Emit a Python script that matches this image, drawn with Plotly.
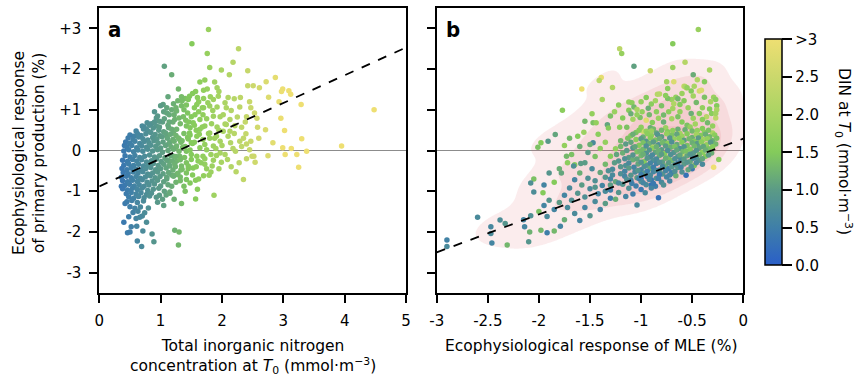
import numpy as np
import plotly.graph_objects as go

# ---------------- Panel a: DIN at T0 (x) vs ecophysiological response of PP (y)
din_a_outer = [1.78, 1.51, 1.76, 2.27, 1.06, 1.18, 1.80, 2.18, 1.99, 2.42, 2.12, 2.87, 2.72, 2.42, 2.51, 2.61,
               2.99, 2.97, 3.09, 3.12, 2.76, 2.93, 3.29, 4.48, 2.96, 3.02, 3.30, 2.83, 2.99, 3.13, 3.38, 3.95,
               3.03, 3.22, 2.75, 3.25, 2.54, 2.49, 2.35, 2.23, 1.87, 1.57, 1.34, 1.23, 1.30, 1.29, 0.89, 0.69,
               0.62, 0.86, 0.50, 0.46, 0.40, 0.52, 0.61, 0.71, 0.70, 0.77, 0.42, 0.36, 0.41, 0.56]
pp_a_outer = [2.97, 2.62, 2.38, 2.50, 2.07, 1.86, 2.04, 2.17, 1.98, 1.96, 1.86, 1.79, 1.69, 1.59, 1.59, 1.54,
              1.51, 1.45, 1.47, 1.38, 1.31, 1.20, 1.13, 1.00, 0.79, 0.49, 0.29, 0.19, 0.07, 0.05, -0.02, 0.11,
              -0.10, -0.10, -0.13, -0.41, -0.29, -0.14, -0.71, -0.52, -1.10, -1.19, -1.30, -1.96, -2.00, -2.32, -2.24, -2.36,
              -2.22, -2.05, -2.00, -2.02, -1.76, -1.87, -1.86, -1.98, -1.61, -1.76, -1.30, -0.88, 0.12, 0.35]

din_a_mid = [1.64, 1.72, 1.88, 1.92, 1.57, 1.76, 1.81, 1.70, 1.94, 2.20, 2.05, 1.92, 2.07, 2.29, 2.47, 2.53,
             2.57, 2.40, 2.21, 2.13, 2.32, 2.39, 2.58, 2.71, 2.47, 2.29, 2.40, 2.14, 2.22, 2.09, 1.99, 2.28,
             2.52, 1.82, 1.79, 1.57, 1.42, 1.38, 1.26, 1.18, 1.09, 1.03, 0.93, 1.06,
             1.29, 1.40, 1.34, 1.47, 1.21, 1.04, 1.10, 1.26, 1.34, 1.44, 1.50, 1.37, 1.23, 1.14, 0.93, 1.03,
             0.93, 0.73, 0.77, 0.85, 1.13, 1.26, 1.42, 1.53, 1.64, 1.70, 1.80, 1.69, 1.86, 1.97, 1.64, 1.72,
             1.80, 1.59, 1.69, 1.64, 1.75, 1.86, 1.97, 1.91, 2.02, 2.07, 2.13, 1.50, 1.42, 1.50, 1.59, 1.69,
             1.61, 1.72, 1.91, 1.97, 1.86, 1.53, 1.42, 1.34, 1.26, 1.15, 1.21, 1.31, 1.40, 1.31, 1.21, 1.10,
             1.47, 1.56, 1.77, 1.86, 1.59]
pp_a_mid = [1.68, 1.73, 1.68, 1.54, 1.45, 1.51, 1.32, 1.28, 1.33, 1.27, 1.17, 1.07, 1.05, 1.07, 1.05, 0.92,
            0.79, 0.83, 0.61, 0.47, 0.57, 0.41, 0.57, 0.51, 0.23, 0.23, 0.16, 0.19, -0.02, -0.22, -0.29, -0.30,
            -0.14, -0.53, -0.61, -0.73, -0.71, -0.88, -0.59, -0.88, -1.09, -1.20, -1.15, -1.00,
            1.51, 1.28, 1.32, 1.33, 1.15, 1.13, 1.05, 0.97, 1.10, 0.92, 0.83, 0.83, 0.76, 0.88, 0.80, 0.70,
            0.60, 0.58, 0.52, 0.66, 0.56, 0.52, 0.60, 0.68, 0.76, 1.05, 1.09, 0.88, 0.84, 0.83, 0.52, 0.60,
            0.43, 0.35, 0.27, 0.07, 0.02, 0.11, 0.23, 0.35, 0.47, 0.64, 0.76, 0.19, -0.02, -0.10, -0.14, -0.14,
            -0.26, -0.34, -0.12, -0.06, -0.24, -0.43, -0.55, -0.38, -0.26, -0.38, -0.14, -0.14, 0.10, 0.27, 0.43, 0.35,
            0.43, 0.88, 1.17, 1.25, 1.13]

din_a_mid2 = [1.12, 1.20, 1.32, 1.41, 1.48, 1.55, 1.62, 1.75, 1.83, 1.92, 2.02, 2.15, 2.25, 2.38,
              1.15, 1.25, 1.35, 1.44, 1.55, 1.63, 1.72, 1.80, 1.90, 2.00, 2.10, 2.18, 2.32, 2.45,
              1.14, 1.24, 1.33, 1.42, 1.50, 1.58, 1.66, 1.75, 1.84, 1.95, 2.05, 2.15,
              1.10, 1.18, 1.25, 1.32, 1.40, 1.48, 1.60, 1.70, 1.15, 1.22, 1.05, 0.98,
              1.05, 0.98, 1.18, 1.28, 1.42, 1.52, 1.62, 1.70, 1.95, 2.10, 2.30, 2.45, 1.85, 0.90, 1.00, 1.12,
              0.82, 0.90, 0.98, 1.06, 1.14, 1.22, 1.30, 1.38, 1.46, 1.55, 0.95, 1.10, 1.25, 1.35, 1.45, 1.60,
              1.68, 0.78, 0.70, 1.48, 1.58, 1.68, 1.78, 1.88, 1.95, 2.05, 2.20, 2.35, 1.52, 1.62, 1.72, 1.82,
              1.45, 2.40, 2.60]
pp_a_mid2 = [0.62, 0.70, 0.66, 0.74, 0.56, 0.62, 0.95, 0.78, 0.66, 0.58, 0.88, 0.98, 0.82, 0.70,
             0.20, 0.08, 0.24, 0.32, 0.20, 0.40, 0.15, 0.30, 0.05, 0.12, 0.35, 0.05, 0.10, 0.02,
             -0.25, -0.40, -0.48, -0.30, -0.22, -0.40, -0.30, -0.45, -0.38, -0.45, -0.10, -0.40,
             -0.70, -0.60, -0.78, -0.65, -1.00, -0.80, -0.95, -0.62, -1.05, -1.20, -1.35, -1.10,
             0.95, 0.72, 1.00, 1.22, 1.12, 1.40, 1.20, 1.48, 1.45, 1.30, 1.30, 1.20, 0.98, 0.95, 1.10, 1.32,
             0.62, 0.70, 0.58, 0.78, 0.70, 0.88, 0.80, 1.00, 0.70, 1.05, 0.85, 0.92, 1.05, 1.22, 1.25, 1.30,
             1.05, 0.68, 0.60, 0.38, 0.50, 0.58, 0.42, 0.30, 0.50, 0.65, 0.42, 0.30, -0.60, -0.70, -0.20, -0.10,
             -0.45, -0.20, 0.30]

din_a_core = [0.60, 0.72, 0.80, 0.88, 0.97, 1.05, 1.18,
              0.50, 0.62, 0.68, 0.76, 0.84, 0.91, 0.99, 1.08, 1.16, 1.25, 1.38,
              0.47, 0.55, 0.64, 0.71, 0.79, 0.87, 0.94, 1.02, 1.11, 1.20, 1.29, 1.45,
              0.43, 0.50, 0.58, 0.66, 0.73, 0.81, 0.89, 0.96, 1.04, 1.13, 1.22, 1.33, 1.52,
              0.45, 0.53, 0.61, 0.69, 0.77, 0.84, 0.92, 1.00, 1.08, 1.17, 1.26, 1.36,
              0.40, 0.48, 0.56, 0.63, 0.71, 0.79, 0.87, 0.95, 1.03, 1.12, 1.21, 1.30, 1.48,
              0.42, 0.50, 0.58, 0.66, 0.74, 0.82, 0.90, 0.98, 1.07, 1.16, 1.25, 1.39,
              0.38, 0.46, 0.54, 0.61, 0.69, 0.77, 0.85, 0.93, 1.01, 1.10, 1.19, 1.32,
              0.40, 0.48, 0.56, 0.64, 0.72, 0.80, 0.88, 0.96, 1.05, 1.14, 1.23, 1.45,
              0.37, 0.45, 0.52, 0.60, 0.68, 0.76, 0.84, 0.92, 1.00, 1.09, 1.20, 1.35,
              0.39, 0.47, 0.55, 0.63, 0.71, 0.79, 0.87, 0.95, 1.04, 1.13, 1.28,
              0.36, 0.44, 0.52, 0.60, 0.67, 0.75, 0.83, 0.91, 0.99, 1.10, 1.21,
              0.38, 0.46, 0.54, 0.62, 0.70, 0.78, 0.86, 0.95, 1.05, 1.32,
              0.41, 0.49, 0.57, 0.65, 0.73, 0.81, 0.90, 1.00, 1.12,
              0.38, 0.46, 0.54, 0.62, 0.70, 0.79, 0.88, 0.97,
              0.44, 0.52, 0.60, 0.68, 0.77, 0.85, 1.15,
              0.48, 0.56, 0.64, 0.73, 0.82,
              0.45, 0.53, 0.62, 0.72, 0.95,
              0.50, 0.58, 0.67, 0.80,
              0.55, 0.63, 0.74,
              0.48, 0.60, 0.66]
pp_a_core = [0.48, 0.53, 0.47, 0.55, 0.50, 0.46, 0.52,
             0.38, 0.42, 0.37, 0.41, 0.44, 0.39, 0.36, 0.43, 0.40, 0.37, 0.42,
             0.31, 0.27, 0.33, 0.29, 0.26, 0.32, 0.28, 0.34, 0.30, 0.27, 0.31, 0.28,
             0.21, 0.18, 0.23, 0.17, 0.22, 0.19, 0.24, 0.18, 0.21, 0.16, 0.23, 0.20, 0.17,
             0.09, 0.12, 0.07, 0.11, 0.08, 0.13, 0.10, 0.06, 0.12, 0.09, 0.11, 0.08,
             -0.01, 0.02, -0.03, 0.01, -0.02, 0.03, -0.01, 0.02, -0.04, 0.00, 0.03, -0.02, 0.01,
             -0.13, -0.16, -0.12, -0.17, -0.14, -0.11, -0.16, -0.13, -0.18, -0.12, -0.15, -0.17,
             -0.24, -0.27, -0.22, -0.26, -0.23, -0.28, -0.25, -0.21, -0.27, -0.24, -0.26, -0.23,
             -0.36, -0.33, -0.37, -0.34, -0.38, -0.35, -0.32, -0.37, -0.34, -0.36, -0.33, -0.38,
             -0.44, -0.47, -0.43, -0.46, -0.48, -0.44, -0.42, -0.47, -0.45, -0.43, -0.48, -0.46,
             -0.54, -0.57, -0.53, -0.56, -0.52, -0.58, -0.55, -0.53, -0.57, -0.54, -0.56,
             -0.66, -0.63, -0.67, -0.64, -0.68, -0.65, -0.62, -0.67, -0.64, -0.66, -0.63,
             -0.74, -0.77, -0.73, -0.76, -0.72, -0.78, -0.75, -0.73, -0.77, -0.74,
             -0.86, -0.83, -0.87, -0.84, -0.88, -0.85, -0.82, -0.87, -0.84,
             -0.94, -0.97, -0.93, -0.96, -0.92, -0.98, -0.95, -0.93,
             -1.06, -1.03, -1.07, -1.04, -1.08, -1.05, -1.02,
             -1.14, -1.17, -1.13, -1.16, -1.12,
             -1.26, -1.23, -1.28, -1.24, -1.27,
             -1.38, -1.42, -1.39, -1.41,
             -1.52, -1.49, -1.53,
             -1.63, -1.67, -1.64]

fit_a_intercept, fit_a_slope = -0.88, 0.682

# ---------------- Panel b: MLE response (x) vs PP response (y), coloured by DIN
mle_b_outer = [-0.44, -0.69, -1.21, -1.19, -1.07, -0.91, -0.57, -0.69, -0.33, -0.49, -0.45, -0.38, -1.39, -1.41,
               -1.58, -1.28, -0.75, -0.68, -0.58, -0.56, -0.84, -1.77, -1.12, -1.47, -1.84, -1.91, -1.98, -2.01,
               -1.47, -2.05, -2.08, -2.05, -1.96, -2.60, -2.38, -2.33, -2.47, -2.47, -2.46, -2.90, -2.90, -2.31,
               -2.14, -2.09, -2.10, -1.98, -1.92, -1.85, -1.79, -0.83, -1.04, -0.56, -0.29, -0.24]
pp_b_outer = [2.97, 2.62, 2.50, 2.38, 2.07, 1.96, 2.17, 2.04, 1.98, 1.86, 1.74, 1.69, 1.79, 1.72,
              1.51, 1.55, 1.69, 1.69, 1.58, 1.54, 1.38, 0.99, 1.19, 0.68, 0.39, 0.23, 0.19, 0.08,
              0.19, -0.70, -0.80, -1.02, -1.04, -1.64, -1.71, -1.79, -1.87, -2.04, -2.27, -2.20, -2.36, -2.32,
              -1.87, -2.00, -2.24, -1.96, -2.02, -1.98, -1.86, -1.16, -1.34, -0.61, -0.41, -0.22]
din_b_outer = [1.78, 1.51, 2.27, 1.76, 1.06, 2.42, 2.18, 1.80, 1.99, 1.18, 2.12, 1.50, 2.87, 2.20,
               2.99, 2.10, 1.90, 2.72, 2.42, 2.51, 2.20, 1.60, 1.70, 1.40, 1.10, 0.95, 1.50, 1.40,
               0.70, 1.40, 0.80, 0.75, 1.50, 0.70, 0.75, 0.90, 0.65, 0.70, 0.60, 0.55, 0.69, 1.29,
               0.62, 1.23, 0.89, 1.30, 0.50, 1.30, 0.61, 0.30, 0.70, 0.30, 3.00, 1.60]

mle_b_upper = [-0.74, -0.57, -0.55, -0.51, -0.49, -0.43, -0.41, -0.38, -0.29, -0.27, -0.26, -0.26, -0.27, -0.66,
               -0.64, -0.62, -0.70, -0.74, -0.82, -0.90, -0.93, -0.99, -1.01, -1.09, -1.07, -1.04, -1.12, -1.04,
               -1.10, -1.08, -1.14, -1.21, -1.33, -1.32, -1.44, -0.95, -0.89, -0.91, -0.83, -0.78, -0.73, -0.69,
               -0.64, -0.62, -0.51, -0.49, -0.43, -0.36, -0.31, -0.27, -0.60, -0.47, -0.35, -0.30,
               -1.40, -1.45, -1.35, -1.50, -1.65, -1.78, -1.42, -1.56, -1.62, -1.70, -1.75, -1.60, -1.68, -1.52,
               -1.72, -1.80, -1.90, -1.85, -1.95, -1.66, -1.59, -1.73,
               -0.88, -0.98, -0.44, -0.60, -0.95, -0.90, -0.70, -1.00, -0.50,
               -1.00, -0.95, -0.86, -0.80, -0.76, -0.68, -0.58, -0.54, -0.46, -0.40, -0.33, -0.32, -0.85, -0.78,
               -0.70, -0.55, -0.40, -0.92, -1.18, -1.26, -1.30, -1.22, -1.48, -1.55, -1.38, -0.60, -0.48]
pp_b_upper = [1.52, 1.57, 1.54, 1.46, 1.34, 1.46, 1.48, 1.31, 1.31, 1.25, 1.10, 1.00, 0.80, 1.31,
              1.27, 1.13, 1.25, 1.28, 1.39, 1.14, 1.04, 0.95, 0.81, 1.17, 1.07, 1.01, 0.99, 0.88,
              0.90, 0.77, 0.57, 0.57, 0.63, 0.55, 0.68, 0.74, 0.69, 0.56, 0.79, 0.87, 0.95, 1.03,
              0.83, 0.95, 0.91, 0.79, 0.91, 0.83, 0.91, 0.91, 0.70, 0.65, 0.68, 0.60,
              0.05, -0.15, 0.20, 0.15, -0.35, -0.55, 0.40, 0.45, 0.35, 0.30, 0.12, 0.10, -0.10, -0.05,
              -0.30, -0.45, -0.55, -0.78, -0.85, -0.38, -0.32, -0.14,
              0.11, 0.47, 0.20, -0.10, 0.02, -0.85, -0.55, -0.70, -0.45,
              1.20, 1.30, 1.22, 1.10, 1.35, 1.15, 1.22, 1.05, 1.18, 1.05, 1.02, 1.20, 0.95, 0.70,
              0.78, 0.62, 0.76, 0.88, 0.80, 0.95, 0.85, 1.12, 0.90, 0.72, 1.25, 1.40, 1.58]
din_b_upper = [1.6, 2.1, 1.7, 1.5, 1.9, 2.6, 2.7, 1.4, 1.8, 1.6, 1.5, 2.0, 2.3, 1.7,
               1.3, 1.5, 1.8, 1.4, 2.2, 1.6, 1.2, 1.7, 1.4, 1.6, 1.3, 2.0, 1.5, 1.7,
               1.2, 1.9, 1.4, 1.6, 1.1, 1.5, 1.7, 2.8, 1.5, 1.2, 1.8, 1.3, 1.6, 1.9,
               1.4, 1.7, 1.2, 1.8, 1.5, 2.2, 1.6, 1.9, 1.5, 1.9, 1.3, 1.7,
               1.6, 1.4, 1.7, 1.2, 1.5, 1.1, 1.6, 1.8, 1.5, 1.3, 1.7, 1.2, 1.4, 1.0,
               1.6, 1.2, 0.9, 1.5, 0.6, 0.8, 1.0, 1.3,
               2.8, 2.5, 2.6, 2.4, 2.9, 0.25, 0.35, 0.30, 0.40,
               1.7, 1.5, 1.9, 1.4, 1.6, 2.1, 1.5, 1.8, 1.3, 1.7, 1.5, 2.0, 1.6, 1.2,
               1.9, 1.4, 1.6, 1.3, 1.5, 1.8, 1.4, 1.6, 1.7, 1.3, 2.0, 1.8, 2.0]

mle_b_core = [-1.00, -0.88, -0.76, -0.64, -0.52, -0.40,
              -1.05, -0.95, -0.85, -0.74, -0.62, -0.50, -0.38, -0.30,
              -1.10, -0.98, -0.90, -0.80, -0.70, -0.60, -0.50, -0.42, -0.33,
              -1.20, -1.05, -0.95, -0.86, -0.77, -0.68, -0.58, -0.48, -0.39, -0.30,
              -1.15, -1.02, -0.92, -0.83, -0.74, -0.65, -0.55, -0.45, -0.36, -0.27,
              -1.25, -1.08, -0.98, -0.89, -0.80, -0.71, -0.62, -0.52, -0.43, -0.34,
              -1.18, -1.04, -0.95, -0.86, -0.77, -0.68, -0.59, -0.49, -0.40, -0.31,
              -1.30, -1.12, -1.00, -0.91, -0.82, -0.73, -0.64, -0.55, -0.46, -0.37,
              -1.22, -1.08, -0.97, -0.88, -0.79, -0.70, -0.61, -0.52, -0.43,
              -1.35, -1.15, -1.03, -0.94, -0.85, -0.76, -0.67, -0.58, -0.48, -0.40,
              -1.28, -1.12, -1.00, -0.91, -0.82, -0.73, -0.64, -0.54,
              -1.40, -1.20, -1.06, -0.97, -0.88, -0.79, -0.70, -0.60,
              -1.35, -1.16, -1.04, -0.94, -0.85, -0.75, -0.66,
              -1.45, -1.25, -1.10, -1.00, -0.90, -0.80, -0.72,
              -1.38, -1.18, -1.05, -0.95, -0.86, -0.78,
              -1.50, -1.30, -1.12, -1.00, -0.90,
              -1.42, -1.22, -1.08, -0.96,
              -1.55, -1.30, -1.15]
pp_b_core = [0.57, 0.53, 0.56, 0.52, 0.58, 0.54,
             0.44, 0.47, 0.43, 0.46, 0.42, 0.48, 0.45, 0.43,
             0.36, 0.33, 0.37, 0.34, 0.38, 0.35, 0.32, 0.37, 0.34,
             0.24, 0.27, 0.23, 0.26, 0.22, 0.28, 0.25, 0.23, 0.27, 0.24,
             0.16, 0.13, 0.17, 0.14, 0.18, 0.15, 0.12, 0.17, 0.14, 0.16,
             0.04, 0.07, 0.03, 0.06, 0.02, 0.08, 0.05, 0.03, 0.07, 0.04,
             -0.06, -0.03, -0.07, -0.04, -0.08, -0.05, -0.02, -0.07, -0.04, -0.06,
             -0.14, -0.17, -0.13, -0.16, -0.12, -0.18, -0.15, -0.13, -0.17, -0.14,
             -0.26, -0.23, -0.27, -0.24, -0.28, -0.25, -0.22, -0.27, -0.24,
             -0.34, -0.37, -0.33, -0.36, -0.32, -0.38, -0.35, -0.33, -0.37, -0.34,
             -0.46, -0.43, -0.47, -0.44, -0.48, -0.45, -0.42, -0.47,
             -0.54, -0.57, -0.53, -0.56, -0.52, -0.58, -0.55, -0.53,
             -0.66, -0.63, -0.67, -0.64, -0.68, -0.65, -0.62,
             -0.74, -0.77, -0.73, -0.76, -0.72, -0.78, -0.75,
             -0.86, -0.83, -0.87, -0.84, -0.88, -0.85,
             -0.94, -0.97, -0.93, -0.96, -0.92,
             -1.06, -1.03, -1.07, -1.04,
             -1.14, -1.17, -1.13]
din_b_core = [1.6, 1.3, 1.8, 1.2, 1.7, 1.5,
              1.4, 1.7, 1.1, 1.5, 1.9, 1.3, 1.6, 2.0,
              1.5, 1.2, 1.6, 1.0, 1.4, 1.8, 1.2, 1.5, 1.3,
              1.3, 1.6, 0.9, 1.4, 1.1, 1.7, 1.0, 1.5, 1.9, 1.2,
              1.0, 1.5, 1.2, 0.8, 1.6, 1.1, 1.4, 1.0, 1.7, 1.3,
              1.7, 0.9, 1.3, 1.6, 1.0, 1.2, 0.8, 1.5, 1.1, 1.4,
              1.2, 1.4, 0.8, 1.1, 1.5, 0.9, 1.3, 1.0, 1.6, 1.2,
              1.5, 1.0, 1.3, 0.7, 1.2, 1.4, 0.9, 1.1, 0.8, 1.5,
              0.9, 1.2, 1.5, 0.8, 1.0, 1.3, 0.7, 1.1, 0.9,
              1.3, 0.8, 1.1, 0.9, 0.6, 1.2, 0.8, 1.0, 1.4, 0.7,
              0.7, 1.0, 0.6, 1.2, 0.8, 0.5, 0.9, 1.1,
              1.1, 0.8, 0.7, 1.0, 0.6, 0.9, 0.5, 0.8,
              0.9, 0.6, 1.0, 0.5, 0.8, 0.6, 1.2,
              0.8, 1.1, 0.6, 0.9, 0.4, 0.7, 0.6,
              0.6, 0.9, 0.5, 0.7, 0.5, 0.8,
              0.7, 0.5, 0.8, 0.4, 0.6,
              0.6, 0.9, 0.5, 0.7,
              0.8, 0.5, 0.6]

mle_b_core2 = [-1.02, -0.90, -0.80, -0.69, -0.57, -0.45, -0.34,
               -1.08, -0.94, -0.84, -0.75, -0.65, -0.55, -0.46, -0.37, -0.28,
               -1.13, -1.00, -0.91, -0.82, -0.72, -0.63, -0.53, -0.44, -0.35, -0.26,
               -1.10, -0.98, -0.88, -0.79, -0.70, -0.60, -0.50, -0.41, -0.32,
               -1.20, -1.06, -0.95, -0.85, -0.76, -0.67, -0.58, -0.48, -0.39, -0.30,
               -1.14, -1.01, -0.92, -0.83, -0.74, -0.65, -0.56, -0.46, -0.37,
               -1.24, -1.08, -0.98, -0.89, -0.80, -0.71, -0.62, -0.52, -0.43, -0.34,
               -1.16, -1.04, -0.94, -0.85, -0.76, -0.67, -0.58, -0.49, -0.40,
               -1.26, -1.12, -1.00, -0.91, -0.82, -0.73, -0.64, -0.55, -0.46,
               -1.20, -1.07, -0.97, -0.88, -0.79, -0.70, -0.61, -0.51,
               -1.32, -1.16, -1.03, -0.94, -0.85, -0.76, -0.67,
               -1.28, -1.10, -1.00, -0.91, -0.82, -0.72,
               -1.30, -1.14, -1.02, -0.92, -0.83,
               -1.22, -1.09, -0.98, -0.88]
pp_b_core2 = [0.50, 0.48, 0.50, 0.49, 0.51, 0.49, 0.50,
              0.40, 0.41, 0.39, 0.41, 0.40, 0.41, 0.39, 0.40, 0.38,
              0.30, 0.29, 0.31, 0.29, 0.31, 0.30, 0.29, 0.31, 0.29, 0.30,
              0.20, 0.19, 0.21, 0.19, 0.21, 0.20, 0.19, 0.21, 0.20,
              0.10, 0.09, 0.11, 0.09, 0.11, 0.10, 0.09, 0.11, 0.10, 0.09,
              0.00, -0.01, 0.01, -0.01, 0.00, 0.01, -0.01, 0.00, 0.01,
              -0.10, -0.11, -0.09, -0.11, -0.09, -0.10, -0.11, -0.09, -0.10, -0.11,
              -0.20, -0.21, -0.19, -0.21, -0.19, -0.20, -0.21, -0.19, -0.20,
              -0.30, -0.31, -0.29, -0.31, -0.29, -0.30, -0.31, -0.29, -0.30,
              -0.40, -0.41, -0.39, -0.41, -0.39, -0.40, -0.41, -0.39,
              -0.50, -0.51, -0.49, -0.51, -0.49, -0.50, -0.51,
              -0.60, -0.61, -0.59, -0.61, -0.59, -0.60,
              -0.70, -0.71, -0.69, -0.71, -0.69,
              -0.80, -0.81, -0.79, -0.81]
din_b_core2 = [1.5, 1.8, 1.3, 1.6, 1.2, 1.7, 1.4,
               1.2, 1.6, 0.9, 1.7, 1.1, 1.5, 1.9, 1.2, 1.6,
               1.4, 1.0, 1.5, 1.2, 0.9, 1.6, 1.3, 1.0, 1.7, 1.4,
               1.1, 1.4, 1.0, 1.3, 0.8, 1.5, 1.2, 1.6, 1.0,
               1.3, 1.1, 0.8, 1.2, 1.0, 1.4, 0.9, 1.3, 1.1, 1.5,
               1.0, 1.3, 0.9, 1.2, 0.8, 1.1, 1.4, 0.9, 1.2,
               1.1, 0.9, 1.2, 0.7, 1.0, 0.8, 1.1, 0.9, 1.3, 1.0,
               0.8, 1.1, 0.9, 0.7, 1.2, 0.8, 1.0, 0.7, 1.1,
               1.0, 0.7, 0.9, 0.6, 0.8, 1.0, 0.6, 0.9, 0.7,
               0.9, 0.6, 0.8, 0.5, 0.7, 0.9, 0.6, 0.8,
               0.8, 0.6, 0.9, 0.5, 0.7, 0.6, 0.8,
               0.7, 0.9, 0.5, 0.7, 0.4, 0.6,
               0.6, 0.8, 0.5, 0.6, 0.5,
               0.7, 0.5, 0.6, 0.4]

mle_b_band = [-1.55, -1.48, -1.60, -1.52, -1.65, -1.58, -1.70, -1.62, -1.75, -1.68, -1.80, -1.72, -1.85, -1.90,
              -1.95, -2.00, -1.92, -2.08, -2.15, -1.65, -1.55, -1.45, -1.40, -1.50, -1.35, -1.60, -1.75, -1.45,
              -1.35, -1.25, -1.30]
pp_b_band = [-0.30, -0.45, -0.55, -0.68, -0.72, -0.85, -0.92, -1.05, -1.10, -1.22, -1.28, -1.40, -1.45, -1.22,
             -1.35, -1.50, -1.62, -1.60, -1.70, -1.55, -1.40, -1.25, -1.45, -1.60, -1.30, -1.72, -1.70, -0.90,
             -1.00, -1.20, -0.85]
din_b_band = [1.0, 0.7, 1.2, 0.8, 0.6, 1.0, 0.7, 0.9, 0.6, 0.8, 1.0, 0.7, 0.6, 0.9,
              0.6, 1.4, 0.7, 0.8, 0.6, 0.7, 0.6, 0.7, 0.6, 0.9, 1.0, 0.6, 1.2, 0.9,
              0.7, 1.2, 1.0]

fit_b_intercept, fit_b_slope = 0.29, 0.93

# ---------------- axes / colour bar labels
xa_ticks = [0, 1, 2, 3, 4, 5]
xb_ticks = [-3, -2.5, -2, -1.5, -1, -0.5, 0]
xb_ticktext = ["-3", "-2.5", "-2", "-1.5", "-1", "-0.5", "0"]
y_ticks = [-3, -2, -1, 0, 1, 2, 3]
y_ticktext = ["-3", "-2", "-1", "0", "+1", "+2", "+3"]
cb_ticks = [0, 0.5, 1.0, 1.5, 2.0, 2.5, 3.0]
cb_ticktext = ["0.0", "0.5", "1.0", "1.5", "2.0", "2.5", ">3"]

din_a = din_a_outer + din_a_mid + din_a_mid2 + din_a_core
pp_a = pp_a_outer + pp_a_mid + pp_a_mid2 + pp_a_core
mle_b = mle_b_outer + mle_b_upper + mle_b_core + mle_b_core2 + mle_b_band
pp_b = pp_b_outer + pp_b_upper + pp_b_core + pp_b_core2 + pp_b_band
din_b = din_b_outer + din_b_upper + din_b_core + din_b_core2 + din_b_band

colorscale = [[0.0, "#2a5fc8"], [0.167, "#3f7fa8"], [0.333, "#5b9b86"], [0.5, "#84cb5b"],
              [0.667, "#a9d463"], [0.833, "#cbd86c"], [1.0, "#eedf72"]]

FONT = "DejaVu Sans"
TICK_SIZE = 15
TITLE_SIZE = 15.5
W, H = 854, 378

fig = go.Figure()

# ---- KDE of panel b points (Gaussian kernel with the data covariance)
bx = np.array(mle_b)
by = np.array(pp_b)
n = bx.size
cov = np.cov(np.vstack([bx, by])) * (1.0 * n ** (-1.0 / 6.0)) ** 2
inv = np.linalg.inv(cov)
gx = np.linspace(-3.0, 0.0, 151)
gy = np.linspace(-3.5, 3.5, 221)
GX, GY = np.meshgrid(gx, gy)
dens = np.zeros_like(GX)
for px_, py_ in zip(bx, by):
    dx = GX - px_
    dy = GY - py_
    dens += np.exp(-0.5 * (inv[0, 0] * dx * dx + 2 * inv[0, 1] * dx * dy + inv[1, 1] * dy * dy))
dens /= dens.max()

# constraint contours shade the region that violates the constraint, so "<" shades z > level
for lvl in [0.05, 0.18, 0.38, 0.62]:
    fig.add_trace(go.Contour(
        x=gx, y=gy, z=dens, xaxis="x2", yaxis="y2",
        contours=dict(type="constraint", operation="<", value=lvl),
        fillcolor="rgba(226,110,115,0.13)", line=dict(width=0, color="rgba(0,0,0,0)"),
        showscale=False, hoverinfo="skip", showlegend=False))

fig.add_trace(go.Scatter(
    x=din_a, y=pp_a, mode="markers", xaxis="x", yaxis="y",
    marker=dict(size=5.5, color=din_a, coloraxis="coloraxis", line=dict(width=0)),
    showlegend=False, hoverinfo="skip"))
fig.add_trace(go.Scatter(
    x=mle_b, y=pp_b, mode="markers", xaxis="x2", yaxis="y2",
    marker=dict(size=5.5, color=din_b, coloraxis="coloraxis", line=dict(width=0)),
    showlegend=False, hoverinfo="skip"))

xa_line = [xa_ticks[0], xa_ticks[-1]]
fig.add_trace(go.Scatter(
    x=xa_line, y=[fit_a_intercept + fit_a_slope * v for v in xa_line], mode="lines",
    xaxis="x", yaxis="y", line=dict(color="black", width=1.8, dash="dash"),
    showlegend=False, hoverinfo="skip"))
xb_line = [xb_ticks[0], xb_ticks[-1]]
fig.add_trace(go.Scatter(
    x=xb_line, y=[fit_b_intercept + fit_b_slope * v for v in xb_line], mode="lines",
    xaxis="x2", yaxis="y2", line=dict(color="black", width=1.8, dash="dash"),
    showlegend=False, hoverinfo="skip"))


def px_x(p):
    return p / W


def px_y(p):
    return 1 - p / H


axis_common = dict(showline=True, linecolor="black", linewidth=1.8, mirror=True,
                   ticks="outside", ticklen=8, tickwidth=1.5, tickcolor="black",
                   showgrid=False, tickfont=dict(family=FONT, size=TICK_SIZE, color="black"),
                   ticklabelstandoff=5, automargin=False)

fig.update_layout(
    width=W, height=H, margin=dict(l=0, r=0, t=0, b=0),
    paper_bgcolor="white", plot_bgcolor="white",
    font=dict(family=FONT, size=TICK_SIZE, color="black"),
    xaxis=dict(domain=[px_x(99.3), px_x(406)], range=[0, 5], tickvals=xa_ticks,
               zeroline=False, anchor="y", **axis_common),
    yaxis=dict(domain=[px_y(293), px_y(8)], range=[-3.5, 3.5], tickvals=y_ticks,
               ticktext=y_ticktext, zeroline=True, zerolinecolor="#8c8c8c", zerolinewidth=1,
               anchor="x", **axis_common),
    xaxis2=dict(domain=[px_x(436.7), px_x(743.3)], range=[-3, 0], tickvals=xb_ticks,
                ticktext=xb_ticktext, zeroline=False, anchor="y2", **axis_common),
    yaxis2=dict(domain=[px_y(293), px_y(8)], range=[-3.5, 3.5], tickvals=y_ticks,
                showticklabels=False, zeroline=True, zerolinecolor="#8c8c8c", zerolinewidth=1,
                anchor="x2", **axis_common),
    coloraxis=dict(
        cmin=0, cmax=3, colorscale=colorscale,
        colorbar=dict(
            x=px_x(765), xanchor="left", xpad=0, ypad=0,
            y=px_y(152.3), yanchor="middle", len=226 / H, lenmode="fraction",
            thickness=17, outlinewidth=1.5, outlinecolor="black",
            ticks="outside", ticklen=10, tickwidth=1.5, tickcolor="black",
            tickvals=cb_ticks, ticktext=cb_ticktext,
            tickfont=dict(family=FONT, size=TICK_SIZE, color="black"))),
)

PANEL_FONT = "Liberation Sans Narrow, DejaVu Sans Condensed, Roboto Condensed, Arial Narrow, sans-serif"
annotations = [
    dict(text="<b>a</b>", x=px_x(106), y=px_y(30), xanchor="left", yanchor="middle",
         font=dict(family=PANEL_FONT, size=22, color="black"), showarrow=False),
    dict(text="<b>b</b>", x=px_x(444), y=px_y(30), xanchor="left", yanchor="middle",
         font=dict(family=PANEL_FONT, size=22, color="black"), showarrow=False),
    dict(text="Ecophysiological response<br>of primary production (%)", x=px_x(29), y=px_y(153),
         textangle=-90, xanchor="center", yanchor="middle", showarrow=False,
         font=dict(family=FONT, size=TITLE_SIZE)),
    dict(text="Total inorganic nitrogen<br>concentration at <i>T</i><sub>0</sub> (mmol·m<sup>−3</sup>)",
         x=px_x(253), y=px_y(357), xanchor="center", yanchor="middle", showarrow=False,
         font=dict(family=FONT, size=TITLE_SIZE)),
    dict(text="Ecophysiological response of MLE (%)", x=px_x(591), y=px_y(346),
         xanchor="center", yanchor="middle", showarrow=False, font=dict(family=FONT, size=TITLE_SIZE)),
    dict(text="DIN at <i>T</i><sub>0</sub> (mmol·m<sup>−3</sup>)", x=px_x(844), y=px_y(151),
         textangle=90, xanchor="center", yanchor="middle", showarrow=False,
         font=dict(family=FONT, size=TITLE_SIZE)),
]
for a in annotations:
    a.update(xref="paper", yref="paper")
fig.update_layout(annotations=annotations)

fig.write_html("out.html")
